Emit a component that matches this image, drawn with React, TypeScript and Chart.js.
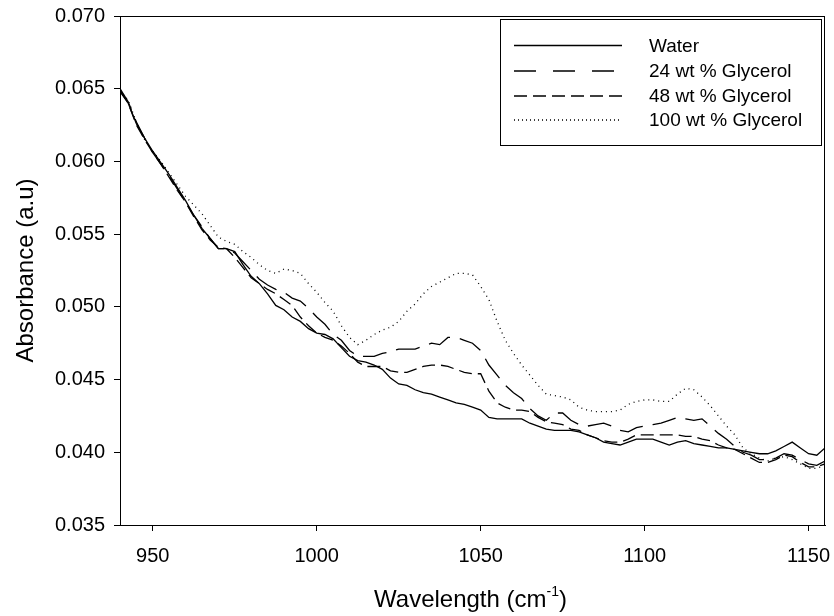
import React, { useEffect, useRef } from "react";
import { Chart, registerables } from "chart.js";

Chart.register(...registerables);

const wavelengths = [
  940, 942.5, 945, 947.5, 950, 952.5, 955, 957.5, 960, 962.5,
  965, 967.5, 970, 972.5, 975, 977.5, 980, 982.5, 985, 987.5,
  990, 992.5, 995, 997.5, 1000, 1002.5, 1005, 1007.5, 1010, 1012.5,
  1015, 1017.5, 1020, 1022.5, 1025, 1027.5, 1030, 1032.5, 1035, 1037.5,
  1040, 1042.5, 1045, 1047.5, 1050, 1052.5, 1055, 1057.5, 1060, 1062.5,
  1065, 1067.5, 1070, 1072.5, 1075, 1077.5, 1080, 1082.5, 1085, 1087.5,
  1090, 1092.5, 1095, 1097.5, 1100, 1102.5, 1105, 1107.5, 1110, 1112.5,
  1115, 1117.5, 1120, 1122.5, 1125, 1127.5, 1130, 1132.5, 1135, 1137.5,
  1140, 1142.5, 1145, 1147.5, 1150, 1152.5, 1155,
];

const water = [
  0.0649, 0.0640, 0.0626, 0.0616, 0.0607, 0.0599, 0.0591, 0.0582, 0.0573, 0.0563,
  0.0554, 0.0547, 0.0540, 0.0540, 0.0538, 0.0529, 0.0521, 0.0516, 0.0509, 0.0501,
  0.0498, 0.0493, 0.0490, 0.0485, 0.0482, 0.0481, 0.0478, 0.0472, 0.0466, 0.0463,
  0.0462, 0.0460, 0.0457, 0.0451, 0.0447, 0.0446, 0.0443, 0.0441, 0.0440, 0.0438,
  0.0436, 0.0434, 0.0433, 0.0431, 0.0429, 0.0424, 0.0423, 0.0423, 0.0423, 0.0423,
  0.0420, 0.0418, 0.0416, 0.0415, 0.0415, 0.0415, 0.0414, 0.0412, 0.0410, 0.0407,
  0.0406, 0.0405, 0.0407, 0.0409, 0.0409, 0.0409, 0.0407, 0.0405, 0.0407, 0.0408,
  0.0406, 0.0405, 0.0404, 0.0403, 0.0403, 0.0402, 0.0401, 0.0400, 0.0399, 0.0399,
  0.0401, 0.0404, 0.0407, 0.0403, 0.0399, 0.0398, 0.0403,
];

const glycerol24 = [
  0.0650, 0.0641, 0.0627, 0.0616, 0.0606, 0.0598, 0.0590, 0.0581, 0.0572, 0.0563,
  0.0555, 0.0547, 0.0540, 0.0540, 0.0537, 0.0531, 0.0525, 0.0519, 0.0515, 0.0512,
  0.0510, 0.0506, 0.0504, 0.0499, 0.0493, 0.0488, 0.0481, 0.0477, 0.0470, 0.0466,
  0.0466, 0.0466, 0.0468, 0.0469, 0.0471, 0.0471, 0.0471, 0.0473, 0.0475, 0.0474,
  0.0479, 0.0479, 0.0477, 0.0475, 0.0470, 0.0460, 0.0453, 0.0446, 0.0441, 0.0437,
  0.0430, 0.0425, 0.0422, 0.0427, 0.0427, 0.0422, 0.0419, 0.0418, 0.0419, 0.0420,
  0.0418, 0.0415, 0.0414, 0.0417, 0.0418, 0.0419, 0.0420, 0.0422, 0.0424, 0.0423,
  0.0422, 0.0423, 0.0418, 0.0413, 0.0409, 0.0404, 0.0400, 0.0398, 0.0395, 0.0395,
  0.0396, 0.0399, 0.0398, 0.0395, 0.0392, 0.0391, 0.0394,
];

const glycerol48 = [
  0.0648, 0.0640, 0.0625, 0.0615, 0.0606, 0.0598, 0.0589, 0.0580, 0.0572, 0.0562,
  0.0553, 0.0546, 0.0541, 0.0540, 0.0534, 0.0527, 0.0520, 0.0516, 0.0512, 0.0509,
  0.0505, 0.0501, 0.0493, 0.0487, 0.0482, 0.0479, 0.0477, 0.0473, 0.0468, 0.0462,
  0.0459, 0.0459, 0.0459, 0.0456, 0.0455, 0.0455, 0.0457, 0.0459, 0.0460, 0.0460,
  0.0459, 0.0457, 0.0455, 0.0454, 0.0454, 0.0442, 0.0434, 0.0431, 0.0429, 0.0429,
  0.0428, 0.0424, 0.0421, 0.0420, 0.0419, 0.0416, 0.0415, 0.0412, 0.0410, 0.0408,
  0.0407, 0.0407, 0.0409, 0.0412, 0.0412, 0.0412, 0.0412, 0.0412, 0.0412, 0.0411,
  0.0411, 0.0409, 0.0408, 0.0405, 0.0403, 0.0402, 0.0399, 0.0396, 0.0393, 0.0393,
  0.0395, 0.0398, 0.0397, 0.0393, 0.0390, 0.0390, 0.0392,
];

const glycerol100 = [
  0.0649, 0.0642, 0.0627, 0.0615, 0.0607, 0.0600, 0.0592, 0.0584, 0.0576, 0.0570,
  0.0564, 0.0556, 0.0548, 0.0545, 0.0543, 0.0538, 0.0534, 0.0529, 0.0525, 0.0523,
  0.0526, 0.0525, 0.0523, 0.0516, 0.0510, 0.0503, 0.0497, 0.0487, 0.0479, 0.0474,
  0.0477, 0.0481, 0.0484, 0.0486, 0.0490, 0.0497, 0.0502, 0.0509, 0.0514, 0.0517,
  0.0520, 0.0523, 0.0523, 0.0522, 0.0514, 0.0505, 0.0490, 0.0477, 0.0468, 0.0460,
  0.0453, 0.0446, 0.0440, 0.0439, 0.0438, 0.0436, 0.0431, 0.0429, 0.0428, 0.0428,
  0.0428, 0.0429, 0.0433, 0.0435, 0.0436, 0.0436, 0.0435, 0.0435, 0.0440, 0.0444,
  0.0443, 0.0438, 0.0432, 0.0425, 0.0418, 0.0412, 0.0403, 0.0399, 0.0396, 0.0394,
  0.0396, 0.0397, 0.0395, 0.0392, 0.0389, 0.0389, 0.0391,
];

const seriesLabels = ["Water", "24 wt % Glycerol", "48 wt % Glycerol", "100 wt % Glycerol"];
const xTicks = [950, 1000, 1050, 1100, 1150];
const yTicks = [0.035, 0.04, 0.045, 0.05, 0.055, 0.06, 0.065, 0.07];
const xTitleMain = "Wavelength (cm";
const xTitleSup = "-1";
const xTitleEnd = ")";
const yTitle = "Absorbance (a.u)";

const FONT = "'Liberation Sans', Arial, Helvetica, sans-serif";
const dashes = [[], [24, 10], [13, 6], [1, 4]];
const legendDashes = [[], [22, 17], [13, 6], [1, 3]];

const decorPlugin = {
  id: "decor",
  afterDraw(chart: any) {
    const { ctx, chartArea: a } = chart;
    ctx.save();
    // frame
    ctx.strokeStyle = "#000";
    ctx.lineWidth = 1;
    ctx.setLineDash([]);
    const l = Math.round(a.left) + 0.5;
    const t = Math.round(a.top) + 0.5;
    const r = Math.round(a.right) - 0.5;
    const b = Math.round(a.bottom) + 0.5;
    ctx.strokeRect(l, t, r - l, b - t);

    // legend
    const bx = 500.5, by = 19.5, bw = 321, bh = 126;
    ctx.fillStyle = "#fff";
    ctx.fillRect(bx, by, bw, bh);
    ctx.strokeRect(bx, by, bw, bh);
    const rows = [45.5, 71, 96, 120];
    ctx.font = `19px ${FONT}`;
    ctx.textBaseline = "middle";
    ctx.textAlign = "left";
    seriesLabels.forEach((lab, i) => {
      ctx.beginPath();
      ctx.setLineDash(legendDashes[i]);
      ctx.lineWidth = 1.3;
      ctx.strokeStyle = "#000";
      ctx.moveTo(514, rows[i]);
      ctx.lineTo(622, rows[i]);
      ctx.stroke();
      ctx.fillStyle = "#000";
      ctx.fillText(lab, 649, rows[i] + 1);
    });
    ctx.setLineDash([]);

    // x title with superscript
    ctx.fillStyle = "#000";
    ctx.textBaseline = "alphabetic";
    ctx.font = `24px ${FONT}`;
    const w1 = ctx.measureText(xTitleMain).width;
    const w3 = ctx.measureText(xTitleEnd).width;
    ctx.font = `14px ${FONT}`;
    const w2 = ctx.measureText(xTitleSup).width;
    const cx = (a.left + a.right) / 2 - 2;
    const x0 = cx - (w1 + w2 + w3) / 2;
    const base = 607;
    ctx.font = `24px ${FONT}`;
    ctx.fillText(xTitleMain, x0, base);
    ctx.font = `14px ${FONT}`;
    ctx.fillText(xTitleSup, x0 + w1, base - 11);
    ctx.font = `24px ${FONT}`;
    ctx.fillText(xTitleEnd, x0 + w1 + w2, base);

    // y title
    ctx.save();
    ctx.translate(26, (a.top + a.bottom) / 2);
    ctx.rotate(-Math.PI / 2);
    ctx.textAlign = "center";
    ctx.textBaseline = "middle";
    ctx.font = `24px ${FONT}`;
    ctx.fillText(yTitle, 0, 0);
    ctx.restore();

    ctx.restore();
  },
};

export default function App() {
  const ref = useRef<HTMLCanvasElement | null>(null);
  useEffect(() => {
    if (!ref.current) return;
    const series = [water, glycerol24, glycerol48, glycerol100];
    const chart = new Chart(ref.current, {
      type: "line",
      data: {
        datasets: series.map((vals, i) => ({
          label: seriesLabels[i],
          data: wavelengths.map((w, j) => ({ x: w, y: vals[j] })),
          borderColor: "#000",
          borderWidth: 1.3,
          borderDash: dashes[i],
          pointRadius: 0,
          tension: 0,
          fill: false,
        })),
      },
      options: {
        animation: false,
        responsive: false,
        devicePixelRatio: 1,
        layout: { padding: { top: 16, right: 9, left: 0, bottom: 0 } },
        plugins: { legend: { display: false }, tooltip: { enabled: false } },
        scales: {
          x: {
            type: "linear",
            min: 940,
            max: 1155,
            afterBuildTicks: (s: any) => {
              s.ticks = xTicks.map((v) => ({ value: v }));
            },
            afterFit: (s: any) => {
              s.height = 91;
              s.paddingLeft = 0;
              s.paddingRight = 0;
            },
            ticks: {
              color: "#000",
              font: { family: FONT, size: 20 },
              padding: 13,
              maxRotation: 0,
              callback: (v: any) => String(v),
            },
            grid: { display: true, drawOnChartArea: false, drawTicks: true, tickLength: 6, color: "#000" },
            border: { display: true, color: "#000", width: 1 },
          },
          y: {
            type: "linear",
            min: 0.035,
            max: 0.07,
            afterBuildTicks: (s: any) => {
              s.ticks = yTicks.map((v) => ({ value: v }));
            },
            afterFit: (s: any) => {
              s.width = 120;
              s.paddingTop = 0;
              s.paddingBottom = 0;
            },
            ticks: {
              color: "#000",
              font: { family: FONT, size: 20 },
              padding: 9,
              callback: (v: any) => Number(v).toFixed(3),
            },
            grid: { display: true, drawOnChartArea: false, drawTicks: true, tickLength: 6, color: "#000" },
            border: { display: true, color: "#000", width: 1 },
          },
        },
      },
      plugins: [decorPlugin],
    });
    return () => chart.destroy();
  }, []);
  return (
    <div style={{ position: "absolute", left: 0, top: 0, width: 834, height: 616, background: "#fff" }}>
      <canvas ref={ref} width={834} height={616} style={{ display: "block" }} />
    </div>
  );
}
